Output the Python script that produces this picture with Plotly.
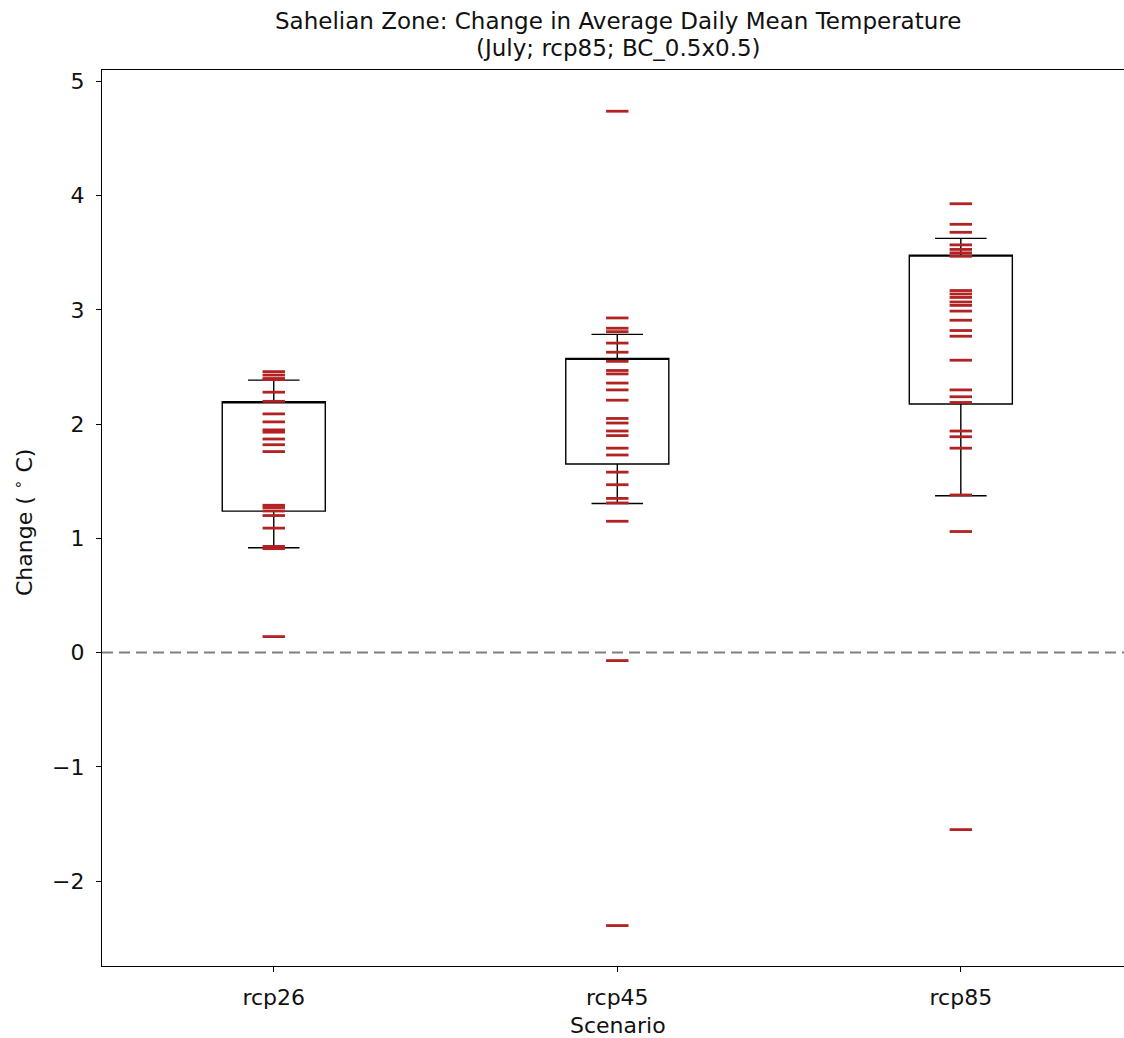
import plotly.graph_objects as go

# ---- data ----
scenarios = ["rcp26", "rcp45", "rcp85"]

rcp26_values = [2.46, 2.43, 2.40, 2.39, 2.28, 2.20, 2.09, 2.02, 1.95, 1.93, 1.87,
                1.82, 1.76, 1.29, 1.27, 1.24, 1.20, 1.09, 0.93, 0.91, 0.14]
rcp45_values = [4.74, 2.93, 2.84, 2.81, 2.71, 2.63, 2.55, 2.47, 2.44, 2.36, 2.30,
                2.21, 2.05, 2.01, 1.94, 1.90, 1.79, 1.73, 1.58, 1.47, 1.35, 1.31,
                1.15, -0.07, -2.39]
rcp85_values = [3.93, 3.75, 3.68, 3.57, 3.53, 3.50, 3.47, 3.17, 3.14, 3.11, 3.07,
                3.04, 2.99, 2.91, 2.82, 2.77, 2.56, 2.30, 2.24, 2.19, 1.94, 1.89,
                1.79, 1.38, 1.06, -1.55]

# box statistics as drawn in the reference (median line not shown)
q1_vals = [1.239, 1.651, 2.176]
q3_vals = [2.196, 2.576, 3.480]
lower_whisker = [0.918, 1.306, 1.373]
upper_whisker = [2.386, 2.786, 3.627]

y_ticks = [-2, -1, 0, 1, 2, 3, 4, 5]

title_line1 = "Sahelian Zone: Change in Average Daily Mean Temperature"
title_line2 = "(July; rcp85; BC_0.5x0.5)"
x_label = "Scenario"
y_label = "Change ( <sup>\u2218</sup> C)"

FONT = "DejaVu Sans"
RED = "#b22222"
TXT = "#111111"

W, H = 1124, 1038
ML, MT, MB, MR = 102, 70, 72, 0
PW, PH = W - ML - MR, H - MT - MB


def px_x(x):
    return (x - ML) / PW


def px_y(y):
    return (H - MB - y) / PH


fig = go.Figure()

fig.add_trace(go.Box(
    x=scenarios,
    q1=q1_vals, median=q3_vals, q3=q3_vals,
    lowerfence=lower_whisker, upperfence=upper_whisker,
    width=0.3, whiskerwidth=0.5,
    fillcolor="rgba(0,0,0,0)",
    line=dict(color="black", width=1.4),
    boxpoints=False, showlegend=False, hoverinfo="skip",
))

series = [rcp26_values, rcp45_values, rcp85_values]
for name, vals in zip(scenarios, series):
    fig.add_trace(go.Scatter(
        x=[name] * len(vals), y=vals, mode="markers",
        marker=dict(symbol="line-ew", size=16, color=RED,
                    line=dict(color=RED, width=2.8)),
        showlegend=False,
    ))

# zero reference line
fig.add_shape(type="line", xref="paper", x0=0, x1=1, yref="y", y0=0, y1=0,
              line=dict(color="#808080", width=2, dash="11px,6px"), layer="above")

annotations = [
    dict(text=title_line1, x=px_x(618), y=px_y(21), font=dict(size=23)),
    dict(text=title_line2, x=px_x(618), y=px_y(48), font=dict(size=23)),
    dict(text=x_label, x=px_x(618), y=px_y(1025), font=dict(size=22)),
    dict(text=y_label, x=px_x(23), y=px_y(523), font=dict(size=22), textangle=-90),
]
for a in annotations:
    a.update(xref="paper", yref="paper", xanchor="center", yanchor="middle",
             showarrow=False)
    a["font"].update(family=FONT, color=TXT)

fig.update_layout(
    width=W, height=H,
    margin=dict(l=ML, r=MR, t=MT, b=MB),
    paper_bgcolor="white", plot_bgcolor="white",
    font=dict(family=FONT, color=TXT, size=22),
    annotations=annotations,
    xaxis=dict(
        type="category", categoryorder="array", categoryarray=scenarios,
        range=[-0.5, 2.475],
        showline=True, mirror=True, linecolor="black", linewidth=1.3,
        ticks="outside", ticklen=5, tickcolor="black", tickwidth=1.3,
        showgrid=False, zeroline=False, ticklabelstandoff=6,
        tickfont=dict(family=FONT, size=22, color=TXT),
    ),
    yaxis=dict(
        range=[-2.744, 5.101], tickmode="array", tickvals=y_ticks,
        ticktext=[("\u2212" + str(-v)) if v < 0 else str(v) for v in y_ticks],
        showline=True, mirror=False, linecolor="black", linewidth=1.3,
        ticks="outside", ticklen=5, tickcolor="black", tickwidth=1.3,
        showgrid=False, zeroline=False, ticklabelstandoff=7,
        tickfont=dict(family=FONT, size=22, color=TXT),
    ),
)

fig.write_html("out.html", config={"displayModeBar": False},
               post_script="document.body.style.margin='0px';document.body.style.overflow='hidden';")
